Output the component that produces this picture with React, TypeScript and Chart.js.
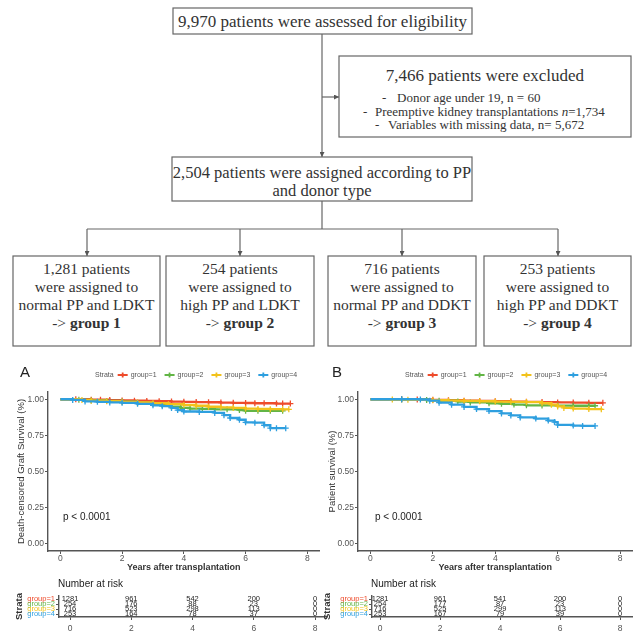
import React, { useEffect, useRef } from "react";
import { Chart, registerables } from "chart.js";
Chart.register(...registerables);

// ---------- data ----------
const GROUPS = ["group=1", "group=2", "group=3", "group=4"];
const COLORS = ["#EE4B2B", "#62B546", "#F2C21B", "#2E9FDF"];
const X_TICKS = [0, 2, 4, 6, 8];
const Y_TICKS = [0, 0.25, 0.5, 0.75, 1];
const RISK_TIMES = [0, 2, 4, 6, 8];

// Panel A: death-censored graft survival [years, survival]
const graftG1: [number, number][] = [[0, 1], [0.5, 1], [1, 0.997], [1.3, 0.997], [1.6, 0.994], [2, 0.992], [2.4, 0.99], [2.8, 0.988], [3.2, 0.986], [3.6, 0.984], [4, 0.982], [4.4, 0.98], [4.8, 0.979], [5.2, 0.977], [5.6, 0.975], [6, 0.974], [6.3, 0.972], [6.6, 0.972], [7, 0.97], [7.2, 0.97], [7.45, 0.97]];
const graftG2: [number, number][] = [[0, 1], [0.6, 0.996], [1, 0.992], [1.5, 0.988], [2, 0.984], [2.5, 0.976], [3, 0.968], [3.3, 0.96], [3.6, 0.948], [3.9, 0.94], [4.2, 0.935], [4.6, 0.933], [5, 0.93], [5.4, 0.93], [5.8, 0.925], [6, 0.92], [6.4, 0.92], [6.8, 0.92], [7.2, 0.92]];
const graftG3: [number, number][] = [[0, 1], [0.7, 0.995], [1, 0.99], [1.5, 0.986], [2, 0.982], [2.5, 0.978], [3, 0.972], [3.5, 0.966], [4, 0.96], [4.4, 0.955], [4.8, 0.948], [5.2, 0.944], [5.6, 0.94], [6, 0.935], [6.4, 0.933], [6.8, 0.931], [7.2, 0.93], [7.4, 0.93]];
const graftG4: [number, number][] = [[0, 1], [0.4, 0.995], [0.8, 0.985], [1.2, 0.982], [1.6, 0.978], [2, 0.975], [2.5, 0.968], [3, 0.958], [3.3, 0.952], [3.6, 0.94], [3.8, 0.925], [4, 0.915], [4.5, 0.912], [5, 0.905], [5.3, 0.89], [5.5, 0.87], [5.8, 0.858], [6, 0.84], [6.3, 0.838], [6.6, 0.82], [6.8, 0.8], [7, 0.8], [7.3, 0.8]];

// Panel B: patient survival
const patientG1: [number, number][] = [[0, 1], [1, 1], [1.5, 0.998], [2, 0.996], [2.5, 0.993], [3, 0.99], [3.5, 0.988], [4, 0.986], [4.5, 0.984], [5, 0.982], [5.5, 0.98], [6, 0.978], [6.5, 0.977], [7, 0.975], [7.45, 0.975]];
const patientG2: [number, number][] = [[0, 1], [1, 0.998], [1.8, 0.994], [2.2, 0.99], [2.8, 0.984], [3.2, 0.978], [3.8, 0.972], [4.2, 0.968], [4.6, 0.963], [5, 0.958], [5.5, 0.957], [6, 0.956], [6.5, 0.955], [7, 0.955], [7.2, 0.955]];
const patientG3: [number, number][] = [[0, 1], [0.7, 0.998], [1.2, 0.996], [2, 0.993], [2.5, 0.99], [3, 0.988], [3.5, 0.986], [4, 0.984], [4.5, 0.982], [5, 0.98], [5.5, 0.972], [5.8, 0.962], [6, 0.95], [6.2, 0.94], [6.5, 0.935], [7, 0.932], [7.4, 0.93]];
const patientG4: [number, number][] = [[0, 1], [1, 1], [1.6, 0.998], [1.9, 0.99], [2.2, 0.976], [2.6, 0.962], [3, 0.947], [3.4, 0.932], [3.8, 0.918], [4.2, 0.902], [4.5, 0.888], [4.8, 0.874], [5.3, 0.866], [5.7, 0.852], [5.9, 0.842], [6, 0.822], [6.5, 0.818], [6.8, 0.815], [7.2, 0.815]];

// Number at risk
const riskA = [
  [1281, 961, 542, 200, 0],
  [254, 176, 88, 23, 0],
  [716, 523, 298, 113, 0],
  [253, 164, 78, 37, 0],
];
const riskB = [
  [1281, 961, 541, 200, 0],
  [254, 177, 87, 23, 0],
  [716, 525, 299, 113, 0],
  [253, 167, 79, 39, 0],
];

const SANS = "'Liberation Sans', Arial, sans-serif";
const SERIF = "'Liberation Serif', 'Times New Roman', serif";
const AXIS = "#555";
const TXT = "#333";

type KMProps = {
  left: number; top: number; width: number; height: number;
  yWidth: number; padRight: number; padTop: number; xHeight: number;
  yTitlePad: number; yTitle: string; label: string; labelX: number;
  legendX: number; pX: number; curves: [number, number][][];
};

function KMChart(p: KMProps) {
  const ref = useRef<HTMLCanvasElement>(null);
  useEffect(() => {
    const overlay = {
      id: "kmOverlay",
      afterDraw(chart: any) {
        const ctx = chart.ctx;
        ctx.save();
        ctx.fillStyle = "#222";
        ctx.font = `15px ${SANS}`;
        ctx.textBaseline = "middle";
        ctx.fillText(p.label, p.labelX, 13);
        // legend
        ctx.font = `7px ${SANS}`;
        ctx.fillStyle = "#555";
        let x = p.legendX;
        ctx.fillText("Strata", x, 15);
        x += ctx.measureText("Strata").width + 4;
        GROUPS.forEach((g, i) => {
          ctx.strokeStyle = COLORS[i];
          ctx.lineWidth = 1.8;
          ctx.beginPath();
          ctx.moveTo(x, 15); ctx.lineTo(x + 10, 15);
          ctx.moveTo(x + 5, 12.5); ctx.lineTo(x + 5, 17.5);
          ctx.stroke();
          x += 13;
          ctx.fillStyle = "#555";
          ctx.fillText(g, x, 15);
          x += ctx.measureText(g).width + 8;
        });
        // p value
        ctx.font = `10px ${SANS}`;
        ctx.fillStyle = "#222";
        ctx.fillText("p < 0.0001", p.pX, 157);
        ctx.restore();
      },
    };
    const chart = new Chart(ref.current!, {
      type: "line",
      data: {
        datasets: p.curves.map((c, i) => ({
          data: c.map(([t, s]) => ({ x: t, y: s })),
          borderColor: COLORS[i],
          backgroundColor: COLORS[i],
          borderWidth: 2.3,
          stepped: "before" as const,
          pointStyle: "cross",
          pointRadius: (ctx: any) => (ctx.dataIndex === 0 ? 0 : 3),
          pointBorderWidth: 1.3,
          pointBorderColor: COLORS[i],
          order: 3 - i,
        })),
      },
      options: {
        animation: false,
        responsive: false,
        maintainAspectRatio: false,
        layout: { padding: { top: p.padTop, right: p.padRight, left: 0, bottom: 0 } },
        plugins: { legend: { display: false }, tooltip: { enabled: false } },
        scales: {
          x: {
            type: "linear", min: -0.4, max: 8.4,
            afterBuildTicks: (s: any) => { s.ticks = X_TICKS.map((v) => ({ value: v })); },
            afterFit: (s: any) => { s.height = p.xHeight; },
            grid: { drawOnChartArea: false, tickLength: 3, color: AXIS },
            border: { color: AXIS, width: 1.4 },
            ticks: { font: { family: SANS, size: 8.5 }, color: "#555", padding: 0, maxRotation: 0, autoSkip: false },
            title: { display: true, text: "Years after transplantation", font: { family: SANS, size: 9, weight: "bold" }, color: TXT, padding: { top: 0, bottom: 2.5 } },
          },
          y: {
            type: "linear", min: -0.05, max: 1.05,
            afterBuildTicks: (s: any) => { s.ticks = Y_TICKS.map((v) => ({ value: v })); },
            afterFit: (s: any) => { s.width = p.yWidth; },
            grid: { drawOnChartArea: false, tickLength: 3, color: AXIS },
            border: { color: AXIS, width: 1.4 },
            ticks: { font: { family: SANS, size: 8.5 }, color: "#555", padding: 1, callback: (v: any) => Number(v).toFixed(2) },
            title: { display: true, text: p.yTitle, font: { family: SANS, size: 9.5 }, color: TXT, padding: { top: p.yTitlePad, bottom: 0 } },
          },
        },
      },
      plugins: [overlay],
    } as any);
    return () => chart.destroy();
  }, []);
  return (
    <canvas ref={ref} width={p.width} height={p.height}
      style={{ position: "absolute", left: p.left, top: p.top, width: p.width, height: p.height }} />
  );
}

type RiskProps = {
  left: number; top: number; width: number; height: number;
  yWidth: number; padRight: number; xMin: number; xMax: number;
  strataPad: number; risk: number[][];
};

function RiskTable(p: RiskProps) {
  const ref = useRef<HTMLCanvasElement>(null);
  useEffect(() => {
    const numbers = {
      id: "riskNumbers",
      afterDatasetsDraw(chart: any) {
        const ctx = chart.ctx;
        ctx.save();
        ctx.font = `7.5px ${SANS}`;
        ctx.fillStyle = "#222";
        ctx.textAlign = "center";
        ctx.textBaseline = "middle";
        chart.data.datasets.forEach((ds: any, i: number) => {
          const meta = chart.getDatasetMeta(i);
          meta.data.forEach((el: any, j: number) => {
            ctx.fillText(String(p.risk[i][j]), el.x, el.y);
          });
        });
        ctx.textAlign = "left";
        ctx.font = `10px ${SANS}`;
        ctx.fillText("Number at risk", chart.chartArea.left - 1, 9);
        ctx.restore();
      },
    };
    const chart = new Chart(ref.current!, {
      type: "scatter",
      data: {
        datasets: GROUPS.map((g, i) => ({
          label: g,
          data: RISK_TIMES.map((t) => ({ x: t, y: i + 1 })),
          pointRadius: 0,
        })),
      },
      options: {
        animation: false,
        responsive: false,
        maintainAspectRatio: false,
        layout: { padding: { top: 21, right: p.padRight, left: 0, bottom: 0 } },
        plugins: { legend: { display: false }, tooltip: { enabled: false } },
        scales: {
          x: {
            type: "linear", min: p.xMin, max: p.xMax,
            afterBuildTicks: (s: any) => { s.ticks = X_TICKS.map((v) => ({ value: v })); },
            afterFit: (s: any) => { s.height = 19; },
            grid: { drawOnChartArea: false, tickLength: 3, color: AXIS },
            border: { color: AXIS, width: 1.4 },
            ticks: { font: { family: SANS, size: 8.5 }, color: "#555", padding: 4, maxRotation: 0, autoSkip: false },
          },
          y: {
            type: "linear", min: 0.4, max: 4.6, reverse: true,
            afterBuildTicks: (s: any) => { s.ticks = [1, 2, 3, 4].map((v) => ({ value: v })); },
            afterFit: (s: any) => { s.width = p.yWidth; },
            grid: { drawOnChartArea: false, tickLength: 3, color: AXIS },
            border: { color: AXIS, width: 1.4 },
            ticks: {
              font: { family: SANS, size: 7.5 }, padding: 1, autoSkip: false,
              color: (c: any) => COLORS[(c.tick?.value ?? 1) - 1],
              callback: (v: any) => GROUPS[Number(v) - 1],
            },
            title: { display: true, text: "Strata", font: { family: SANS, size: 9.5, weight: "bold" }, color: TXT, padding: { top: p.strataPad, bottom: 0 } },
          },
        },
      },
      plugins: [numbers],
    } as any);
    return () => chart.destroy();
  }, []);
  return (
    <canvas ref={ref} width={p.width} height={p.height}
      style={{ position: "absolute", left: p.left, top: p.top, width: p.width, height: p.height }} />
  );
}

function Flow() {
  const stroke = "#666";
  const box = (x: number, y: number, w: number, h: number) => (
    <rect x={x} y={y} width={w} height={h} fill="#fff" stroke={stroke} strokeWidth={1.2} />
  );
  const t = (x: number, y: number, s: string, size = 16, anchor: any = "middle") => (
    <text x={x} y={y} fontSize={size} textAnchor={anchor} dominantBaseline="central" fill={TXT} fontFamily={SERIF}>{s}</text>
  );
  const bottomBoxes = [
    { x: 13, w: 147, n: "1,281 patients", d: "normal PP and LDKT", g: "group 1" },
    { x: 166, w: 148, n: "254 patients", d: "high PP and LDKT", g: "group 2" },
    { x: 328, w: 148, n: "716 patients", d: "normal PP and DDKT", g: "group 3" },
    { x: 484, w: 147, n: "253 patients", d: "high PP and DDKT", g: "group 4" },
  ];
  return (
    <svg width={640} height={350} style={{ position: "absolute", left: 0, top: 0 }}>
      <defs>
        <marker id="ah" markerWidth="5" markerHeight="5" refX="5" refY="2.5" orient="auto" markerUnits="userSpaceOnUse">
          <path d="M0,0 L5,2.5 L0,5 z" fill="#555" />
        </marker>
      </defs>
      <line x1={322} y1={34} x2={322} y2={157} stroke={stroke} strokeWidth={1.2} markerEnd="url(#ah)" />
      <line x1={322} y1={97} x2={339} y2={97} stroke={stroke} strokeWidth={1.2} markerEnd="url(#ah)" />
      <line x1={322} y1={201} x2={322} y2={229} stroke={stroke} strokeWidth={1.2} />
      <line x1={87} y1={229} x2={558} y2={229} stroke={stroke} strokeWidth={1.2} />
      {[87, 240, 402, 558].map((x) => (
        <line key={x} x1={x} y1={229} x2={x} y2={256} stroke={stroke} strokeWidth={1.2} markerEnd="url(#ah)" />
      ))}
      {box(173, 8, 299, 26)}
      {t(322.5, 21, "9,970 patients were assessed for eligibility", 17)}
      {box(339, 56, 292, 81)}
      {t(485, 75, "7,466 patients were excluded", 17)}
      {t(382, 97, "-", 13, "start")}
      {t(397, 97, "Donor age under 19, n = 60", 13, "start")}
      {t(363, 111, "-", 13, "start")}
      <text x={375} y={111} fontSize={13} dominantBaseline="central" fill={TXT} fontFamily={SERIF}>
        Preemptive kidney transplantations <tspan fontStyle="italic">n</tspan>=1,734
      </text>
      {t(375, 124, "-", 13, "start")}
      {t(388, 124, "Variables with missing data, n= 5,672", 13, "start")}
      {box(172, 157, 300, 44)}
      {t(322, 172, "2,504 patients were assigned according to PP", 16.5)}
      {t(322, 190, "and donor type", 16.5)}
      {bottomBoxes.map((b) => (
        <g key={b.g}>
          {box(b.x, 256, b.w, 90)}
          {t(b.x + b.w / 2, 268, b.n, 15.5)}
          {t(b.x + b.w / 2, 286, "were assigned to", 15.5)}
          {t(b.x + b.w / 2, 304, b.d, 15.5)}
          <text x={b.x + b.w / 2} y={322} fontSize={15.5} textAnchor="middle" dominantBaseline="central" fill={TXT} fontFamily={SERIF}>
            {"-> "}<tspan fontWeight="bold">{b.g}</tspan>
          </text>
        </g>
      ))}
    </svg>
  );
}

export default function App() {
  return (
    <div style={{ position: "fixed", left: 0, top: 0, width: 640, height: 636, background: "#fff", overflow: "hidden" }}>
      <Flow />
      <KMChart left={0} top={360} width={325} height={215} yWidth={48} padRight={5} padTop={32} xHeight={24}
        yTitlePad={16} yTitle="Death-censored Graft Survival (%)" label="A" labelX={20} legendX={95} pX={63}
        curves={[graftG1, graftG2, graftG3, graftG4]} />
      <KMChart left={320} top={360} width={320} height={215} yWidth={38} padRight={7.5} padTop={32} xHeight={24}
        yTitlePad={7} yTitle="Patient survival (%)" label="B" labelX={12} legendX={85} pX={55}
        curves={[patientG1, patientG2, patientG3, patientG4]} />
      <RiskTable left={0} top={575} width={330} height={61} yWidth={59} padRight={2.75} xMin={-0.36} xMax={8.4}
        strataPad={14} risk={riskA} />
      <RiskTable left={320} top={575} width={320} height={61} yWidth={52} padRight={8} xMin={-0.27} xMax={8.4}
        strataPad={2} risk={riskB} />
    </div>
  );
}
